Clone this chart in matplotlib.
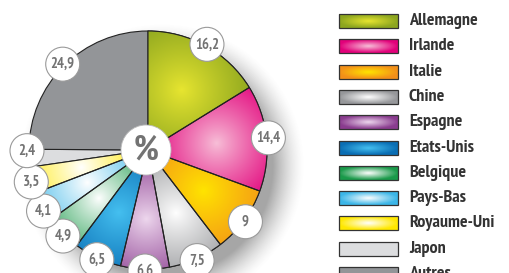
import numpy as np
import matplotlib
matplotlib.use("Agg")
import matplotlib.pyplot as plt
from matplotlib.colors import to_rgb
from matplotlib.patches import Circle, Rectangle, Wedge

W, H = 510, 273
FONT = ["PT Sans Narrow", "DejaVu Sans"]

countries = ["Allemagne", "Irlande", "Italie", "Chine", "Espagne", "Etats-Unis",
             "Belgique", "Pays-Bas", "Royaume-Uni", "Japon", "Autres"]
shares = [16.2, 14.4, 9, 7.5, 6.6, 6.5, 4.9, 4.1, 3.5, 2.4, 24.9]
labels = ["16,2", "14,4", "9", "7,5", "6,6", "6,5", "4,9", "4,1", "3,5", "2,4", "24,9"]

# (edge colour, highlight colour) for each slice
dark = ["#8da61f", "#e2007a", "#f39019", "#96979a", "#8a3c8f", "#0a6eb4",
        "#1a9a4a", "#3bb6e8", "#ffe800", "#dcdddf", "#939598"]
light = ["#e8e630", "#f7c0d8", "#ffe500", "#ffffff", "#eed8ee", "#45c0f0",
         "#ffffff", "#ffffff", "#ffffff", "#dcdddf", "#939598"]

cx, cy, R = 148, H - 150, 119

fig = plt.figure(figsize=(W / 100, H / 100), dpi=100)
ax = fig.add_axes([0, 0, 1, 1])
ax.set_xlim(0, W)
ax.set_ylim(0, H)
ax.set_aspect("equal")
ax.axis("off")

gx, gy = np.meshgrid(np.linspace(0, W, 2 * W), np.linspace(0, H, 2 * H))

# soft shadow behind the pie, offset down-right
sx, sy = cx + 14, cy - 16
d = np.hypot(gx - sx, gy - sy)
alpha = np.clip(1 - (d - R + 8) / 32, 0, 1) ** 1.5 * 0.6
shadow = np.zeros((2 * H, 2 * W, 4))
shadow[..., :3] = 0.42
shadow[..., 3] = alpha
ax.imshow(shadow, extent=(0, W, 0, H), origin="lower", zorder=1, interpolation="bilinear")

wedges, _ = ax.pie(shares, center=(cx, cy), radius=R, startangle=90, counterclock=False,
                   colors=dark, wedgeprops=dict(edgecolor="#222222", linewidth=0.8))
for w in wedges:
    w.set_zorder(2)

# radial highlight in each slice
for i, w in enumerate(wedges):
    if dark[i] == light[i]:
        continue
    mid = np.deg2rad((w.theta1 + w.theta2) / 2)
    hx, hy = cx + 0.58 * R * np.cos(mid), cy + 0.58 * R * np.sin(mid)
    t = np.clip(np.hypot(gx - hx, gy - hy) / (0.62 * R), 0, 1) ** 0.9
    c0, c1 = np.array(to_rgb(light[i])), np.array(to_rgb(dark[i]))
    img = c0 + (c1 - c0) * t[..., None]
    im = ax.imshow(img, extent=(0, W, 0, H), origin="lower", zorder=2.5, interpolation="bilinear")
    im.set_clip_path(w)
    ax.add_patch(Wedge((cx, cy), R, w.theta1, w.theta2, facecolor="none",
                       edgecolor="#222222", linewidth=0.8, zorder=3))

# value bubbles, pushed apart where slices are thin
mids = np.array([(w.theta1 + w.theta2) / 2 for w in wedges])
for _ in range(60):
    for i in range(len(mids) - 1):
        gap = abs(mids[i] - mids[i + 1])
        if gap < 15:
            push = (15 - gap) / 2 * np.sign(mids[i] - mids[i + 1])
            mids[i] += push
            mids[i + 1] -= push
for i, a in enumerate(mids):
    r = np.deg2rad(a)
    bx, by = cx + (R + 2) * np.cos(r), cy + (R + 2) * np.sin(r)
    ax.add_patch(Circle((bx, by), 17, facecolor="white", edgecolor="#9a9a9a",
                        linewidth=0.8, zorder=10 + i))
    ax.text(bx, by, labels[i], ha="center", va="center", fontsize=10.5, fontweight="bold",
            color="#737373", zorder=10 + i, family=FONT)

ax.add_patch(Circle((cx - 2, cy), 25, facecolor="white", edgecolor="#bbbbbb",
                    linewidth=0.6, zorder=30))
ax.text(cx - 2, cy, "%", ha="center", va="center", fontsize=25, fontweight="bold",
        color="#737373", zorder=31, family=FONT)

# legend
lx0, lx1, bh = 339, 398, 14
for i, name in enumerate(countries):
    yc = H - (21 + 25.3 * i)
    box = Rectangle((lx0, yc - bh / 2), lx1 - lx0, bh, facecolor=dark[i],
                    edgecolor="#333333", linewidth=0.9, zorder=5)
    ax.add_patch(box)
    if dark[i] != light[i]:
        lxg, lyg = np.meshgrid(np.linspace(lx0, lx1, 120), np.linspace(yc - bh / 2, yc + bh / 2, 30))
        t = np.clip(np.hypot((lxg - (lx0 + lx1) / 2) / ((lx1 - lx0) / 2),
                             (lyg - yc) / (bh / 2)), 0, 1)
        c0, c1 = np.array(to_rgb(light[i])), np.array(to_rgb(dark[i]))
        img = c0 + (c1 - c0) * t[..., None]
        im = ax.imshow(img, extent=(lx0, lx1, yc - bh / 2, yc + bh / 2), origin="lower",
                       zorder=4, interpolation="bilinear")
        im.set_clip_path(box)
        box.set_facecolor("none")
    ax.text(409, yc, name, ha="left", va="center", fontsize=13, fontweight="bold",
            color="#333333", family=FONT)

ax.set_xlim(0, W)
ax.set_ylim(0, H)
fig.savefig("out.png", dpi=100)
